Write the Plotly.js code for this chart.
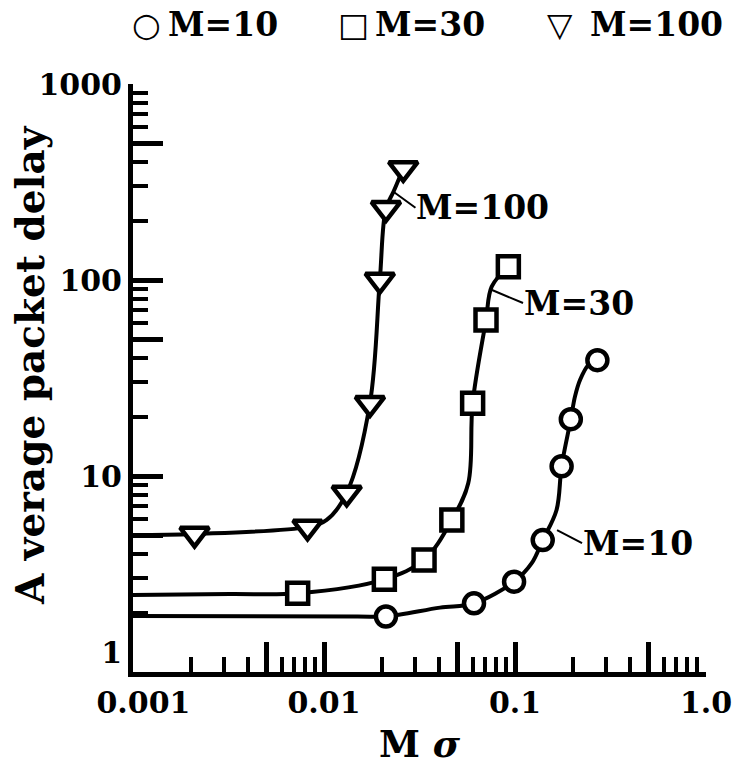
<!DOCTYPE html>
<html>
<head>
<meta charset="utf-8">
<script src="https://cdn.plot.ly/plotly-3.0.1.min.js"></script>
<style>html,body{margin:0;padding:0;background:#fff;}#chart{width:737px;height:769px;}</style>
</head>
<body>
<div id="chart"></div>
<script>
// ---- data ----
const seriesNames = ["M=10", "M=30", "M=100"];

// markers
const m10_x  = [0.0211, 0.061, 0.0989, 0.1397, 0.1754, 0.196, 0.27];
const m10_y  = [1.92, 2.24, 2.89, 4.71, 11.2, 19.5, 39];
const m30_x  = [0.00728, 0.0207, 0.0334, 0.0467, 0.060, 0.0705, 0.0923];
const m30_y  = [2.52, 2.97, 3.73, 5.97, 23.5, 62.5, 117];
const m100_x = [0.0021, 0.0082, 0.01315, 0.0174, 0.0196, 0.0211, 0.026];
const m100_y = [5.06, 5.5, 8.2, 23.5, 100, 232, 371];

// fitted curves
const c10_x  = [0.001, 0.015, 0.0211, 0.0405, 0.061, 0.0989, 0.1223, 0.1397, 0.165, 0.1754, 0.196, 0.206, 0.219, 0.242, 0.27];
const c10_y  = [1.93, 1.92, 1.92, 2.13, 2.24, 2.89, 3.59, 4.71, 6.71, 11.2, 19.5, 25.4, 30.9, 36.8, 39];
const c30_x  = [0.001, 0.00322, 0.00728, 0.0207, 0.0334, 0.0467, 0.0569, 0.060, 0.0705, 0.0755, 0.0923];
const c30_y  = [2.47, 2.5, 2.52, 2.97, 3.73, 5.97, 9.18, 23.5, 62.5, 92.5, 117];
const c100_x = [0.001, 0.0021, 0.0082, 0.01033, 0.01315, 0.0174, 0.0196, 0.0211, 0.0231, 0.026];
const c100_y = [5.0, 5.06, 5.5, 5.97, 8.2, 23.5, 100, 232, 282, 371];

// axis ticks
const xMajorVals = [0.001, 0.005, 0.01, 0.05, 0.1, 0.5, 1];
const xMajorText = ["\u00a0\u00a00.001", "", "0.01", "", "0.1", "", "1.0"];
const xMinorVals = [0.002,0.003,0.004,0.006,0.007,0.008,0.009,
                    0.02,0.03,0.04,0.06,0.07,0.08,0.09,
                    0.2,0.3,0.4,0.6,0.7,0.8,0.9];
const yMajorVals = [1, 5, 10, 50, 100, 500, 1000];
const yMajorText = ["1<br>\u00a0", "", "10", "", "100", "", "1000"];
const yMinorVals = [2,3,4,6,7,8,9, 20,30,40,60,70,80,90, 200,300,400,600,700,800,900];

// label anchor points on curves
const labelText = ["M=100", "M=30", "M=10"];
const labelX = [0.0231, 0.0758, 0.166];
const labelY = [282, 88.9, 5.30];

// ---- drawing ----
const SERIF = "DejaVu Serif";
const lineStyle = {color: "#000", width: 4, shape: "spline", smoothing: 1};
function markerStyle(sym, size) {
  return {symbol: sym, size: size, color: "#fff", line: {color: "#000", width: 4.5}};
}

const traces = [
  {x: c10_x, y: c10_y, mode: "lines", line: lineStyle, showlegend: false, hoverinfo: "skip"},
  {x: c30_x, y: c30_y, mode: "lines", line: lineStyle, showlegend: false, hoverinfo: "skip"},
  {x: c100_x, y: c100_y, mode: "lines", line: lineStyle, showlegend: false, hoverinfo: "skip"},
  {x: m10_x, y: m10_y, mode: "markers", name: seriesNames[0], marker: markerStyle("circle", 20), showlegend: false},
  {x: m30_x, y: m30_y, mode: "markers", name: seriesNames[1], marker: markerStyle("square", 21), showlegend: false},
  {x: m100_x, y: m100_y, mode: "markers", name: seriesNames[2], marker: markerStyle("triangle-down", 25), showlegend: false}
];

const plotL = 133, plotR = 706, plotT = 84, plotB = 672;
function px2paperX(p) { return (p - plotL) / (plotR - plotL); }
function px2paperY(p) { return (plotB - p) / (plotB - plotT); }

const annFont = {family: SERIF, size: 33, color: "#000", weight: "bold"};
const annotations = [];
const labelOffsets = [[22, 16], [31, 13], [25, 13]];
for (let i = 0; i < labelText.length; i++) {
  annotations.push({
    x: Math.log10(labelX[i]), y: Math.log10(labelY[i]), xref: "x", yref: "y",
    text: "<b>" + labelText[i] + "</b>", font: annFont,
    showarrow: true, arrowhead: 0, arrowwidth: 2, arrowcolor: "#000",
    ax: labelOffsets[i][0], ay: labelOffsets[i][1], xanchor: "left", yanchor: "middle",
    standoff: 0, startstandoff: 0, borderpad: 0
  });
}
// legend row
const legendSymbols = ["○", "□", "▽"];
const legendSymX = [146, 353, 560];
const legendTxtX = [166, 373, 588];
for (let i = 0; i < 3; i++) {
  annotations.push({
    xref: "paper", yref: "paper", x: px2paperX(legendSymX[i]), y: px2paperY(24),
    text: legendSymbols[i], showarrow: false, xanchor: "center", yanchor: "middle",
    font: {family: "DejaVu Sans", size: 33, color: "#000"}
  });
  annotations.push({
    xref: "paper", yref: "paper", x: px2paperX(legendTxtX[i]), y: px2paperY(25),
    text: "<b>" + seriesNames[i] + "</b>", showarrow: false, xanchor: "left", yanchor: "middle",
    font: annFont
  });
}
// y-axis title (placed to match the reference position)
annotations.push({
  xref: "paper", yref: "paper", x: px2paperX(30), y: px2paperY(365),
  text: "<b>A verage packet delay</b>", textangle: -90, showarrow: false,
  xanchor: "center", yanchor: "middle",
  font: {family: SERIF, size: 39, color: "#000"}
});

const tickFont = {family: SERIF, size: 30, color: "#000", weight: "bold"};
const layout = {
  width: 737, height: 769,
  margin: {l: plotL, r: 737 - plotR, t: plotT, b: 769 - plotB},
  paper_bgcolor: "#fff", plot_bgcolor: "#fff",
  showlegend: false,
  font: {family: SERIF, color: "#000"},
  xaxis: {
    type: "log", range: [-3, 0], showgrid: false, zeroline: false,
    showline: true, linewidth: 5, linecolor: "#000",
    ticks: "inside", ticklen: 30, tickwidth: 5, tickcolor: "#000",
    tickmode: "array", tickvals: xMajorVals, ticktext: xMajorText,
    tickfont: tickFont,
    minor: {tickmode: "array", tickvals: xMinorVals, ticks: "inside", ticklen: 15, tickwidth: 4, tickcolor: "#000", showgrid: false},
    title: {text: "<b>M <i>σ</i></b>", font: {family: SERIF, size: 37, color: "#000"}, standoff: 14},
    automargin: false
  },
  yaxis: {
    type: "log", range: [0, 3], showgrid: false, zeroline: false,
    showline: true, linewidth: 5, linecolor: "#000",
    ticks: "inside", ticklen: 30, tickwidth: 5, tickcolor: "#000",
    tickmode: "array", tickvals: yMajorVals, ticktext: yMajorText,
    tickfont: tickFont,
    minor: {tickmode: "array", tickvals: yMinorVals, ticks: "inside", ticklen: 15, tickwidth: 4, tickcolor: "#000", showgrid: false},
    automargin: false
  },
  annotations: annotations
};

Plotly.newPlot("chart", traces, layout, {displayModeBar: false, staticPlot: true});
</script>
</body>
</html>
